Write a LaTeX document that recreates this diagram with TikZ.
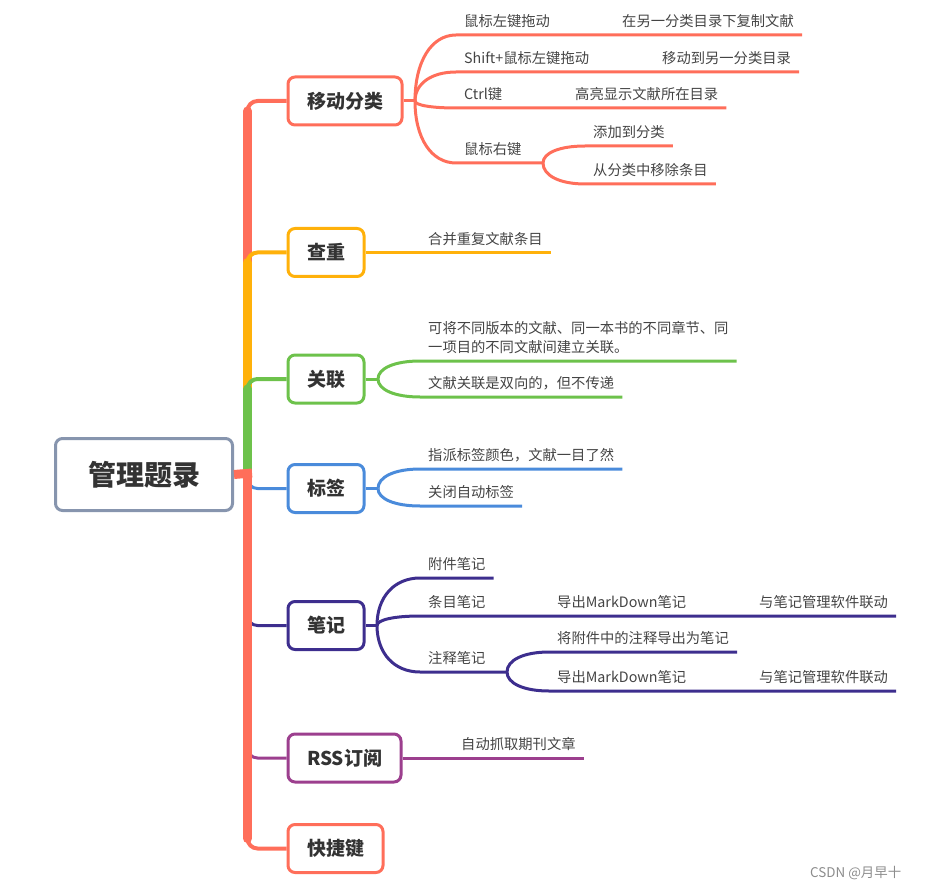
\documentclass[tikz,border=0pt]{standalone}
\usepackage{fontspec}
\setmainfont{Noto Sans CJK SC}
\usetikzlibrary{calc}
\definecolor{brRed}{HTML}{FF6E5A}
\definecolor{brOrange}{HTML}{FFB10A}
\definecolor{brGreen}{HTML}{6DC24B}
\definecolor{brBlue}{HTML}{4A8BDB}
\definecolor{brNavy}{HTML}{3D2E8E}
\definecolor{brPlum}{HTML}{9C3F8E}
\definecolor{rootEdge}{HTML}{8795AE}
\definecolor{txtDark}{HTML}{333333}
\definecolor{txtLeaf}{HTML}{444444}

\begin{document}
\begin{tikzpicture}[
  x=1pt, y=-1pt,
  root/.style={draw=rootEdge,line width=3pt,rounded corners=7pt,fill=white,minimum width=177pt,minimum height=72pt,font=\fontsize{28}{30}\selectfont\bfseries,text=txtDark},
  topic/.style={draw=#1,line width=3pt,rounded corners=7pt,fill=white,anchor=west,minimum height=48pt,inner xsep=19pt,font=\fontsize{19}{21}\selectfont\bfseries,text=txtDark},
  leaf/.style={anchor=south west,inner xsep=8pt,inner ysep=6pt,text depth=2pt,align=left,font=\fontsize{14.3}{19}\selectfont,text=txtLeaf},
  trunk/.style={line width=9pt,line cap=round},
  limb/.style={line width=4pt,rounded corners=10pt},
  twig/.style={line width=3pt},
  forkto/.style={to path={.. controls ($(\tikztostart)!0.6!(\tikztostart|-\tikztotarget)$) and ($(\tikztotarget)!0.6!(\tikztostart|-\tikztotarget)$) .. (\tikztotarget)}},
]
  \useasboundingbox (0,0) rectangle (925,890);

  \node[root] (root) at (144,474.5) {管理题录};
  \coordinate (j) at (247.5,473);

  \node[topic=brRed] (move) at (286.5,101) {移动分类};
  \node[topic=brOrange] (dup) at (286.5,252.5) {查重};
  \node[topic=brGreen] (rel) at (286.5,379) {关联};
  \node[topic=brBlue] (tag) at (286.5,488.5) {标签};
  \node[topic=brNavy] (note) at (286.5,625.5) {笔记};
  \node[topic=brPlum] (rss) at (286.5,758) {RSS订阅};
  \node[topic=brRed] (key) at (286.5,848.5) {快捷键};

  \draw[limb,brBlue,line width=3pt] (j) |- (tag.west);
  \draw[limb,brNavy,line width=3pt] (j) |- (note.west);
  \draw[limb,brPlum,line width=3pt] (j) |- (rss.west);
  \draw[limb,brRed] (j) |- (move.west);
  \draw[trunk,brRed] (j) -- ($(j|-move.west)+(0,10)$);
  \draw[limb,brRed] (j) |- (key.west);
  \draw[trunk,brRed] (j) -- ($(j|-key.west)+(0,-10)$);
  \draw[limb,brOrange] (j) |- (dup.west);
  \draw[trunk,brOrange] (j) -- ($(j|-dup.west)+(0,10)$);
  \draw[limb,brGreen] (j) |- (rel.west);
  \draw[trunk,brGreen] (j) -- ($(j|-rel.west)+(0,10)$);
  \draw[brRed,line width=9pt] (root.east) -- ($(j)+(4.5,0)$);

  \coordinate (mf) at (415,101);
  \coordinate (m4f) at (543,163);
  \node[leaf] (m1) at (456,35) {鼠标左键拖动};
  \node[leaf] (m1a) at (614,35) {在另一分类目录下复制文献};
  \node[leaf] (m2) at (456,72) {Shift+鼠标左键拖动};
  \node[leaf] (m2a) at (654,72) {移动到另一分类目录};
  \node[leaf] (m3) at (456,108) {Ctrl键};
  \node[leaf] (m3a) at (567,108) {高亮显示文献所在目录};
  \node[leaf] (m4) at (456,163) {鼠标右键};
  \node[leaf] (m4a) at (585,146) {添加到分类};
  \node[leaf] (m4b) at (585,184) {从分类中移除条目};
  \draw[twig,brRed] (move.east) -- (mf);
  \draw[twig,brRed] (mf) to[forkto] (m1.south west) -- (m1a.south east);
  \draw[twig,brRed] (mf) to[forkto] (m2.south west) -- (m2a.south east);
  \draw[twig,brRed] (mf) to[forkto] (m3.south west) -- (m3a.south east);
  \draw[twig,brRed] (mf) to[forkto] (m4.south west) -- (m4f);
  \draw[twig,brRed] (m4f) to[forkto] (m4a.south west) -- (m4a.south east);
  \draw[twig,brRed] (m4f) to[forkto] (m4b.south west) -- (m4b.south east);

  \node[leaf] (d1) at (420,252.5) {合并重复文献条目};
  \draw[twig,brOrange] (dup.east) -- (d1.south west) -- (d1.south east);

  \coordinate (rf) at (378,379);
  \node[leaf] (r1) at (420,361) {可将不同版本的文献、同一本书的不同章节、同\\一项目的不同文献间建立关联。};
  \node[leaf] (r2) at (420,397) {文献关联是双向的，但不传递};
  \draw[twig,brGreen] (rel.east) -- (rf);
  \draw[twig,brGreen] (rf) to[forkto] (r1.south west) -- (r1.south east);
  \draw[twig,brGreen] (rf) to[forkto] (r2.south west) -- (r2.south east);

  \coordinate (tf) at (378,488.5);
  \node[leaf] (t1) at (420,469) {指派标签颜色，文献一目了然};
  \node[leaf] (t2) at (420,506) {关闭自动标签};
  \draw[twig,brBlue] (tag.east) -- (tf);
  \draw[twig,brBlue] (tf) to[forkto] (t1.south west) -- (t1.south east);
  \draw[twig,brBlue] (tf) to[forkto] (t2.south west) -- (t2.south east);

  \coordinate (nf) at (377,625.5);
  \coordinate (n3f) at (507,672);
  \node[leaf] (n1) at (420,578) {附件笔记};
  \node[leaf] (n2) at (420,616) {条目笔记};
  \node[leaf] (n2a) at (549,616) {导出MarkDown笔记};
  \node[leaf] (n2b) at (751,616) {与笔记管理软件联动};
  \node[leaf] (n3) at (420,672) {注释笔记};
  \node[leaf] (n3a) at (549,652) {将附件中的注释导出为笔记};
  \node[leaf] (n3b) at (549,691) {导出MarkDown笔记};
  \node[leaf] (n3c) at (751,691) {与笔记管理软件联动};
  \draw[twig,brNavy] (note.east) -- (nf);
  \draw[twig,brNavy] (nf) to[forkto] (n1.south west) -- (n1.south east);
  \draw[twig,brNavy] (nf) to[forkto] (n2.south west) -- (n2b.south east);
  \draw[twig,brNavy] (nf) to[forkto] (n3.south west) -- (n3f);
  \draw[twig,brNavy] (n3f) to[forkto] (n3a.south west) -- (n3a.south east);
  \draw[twig,brNavy] (n3f) to[forkto] (n3b.south west) -- (n3c.south east);

  \node[leaf] (s1) at (453,758) {自动抓取期刊文章};
  \draw[twig,brPlum] (rss.east) -- (s1.south west) -- (s1.south east);

  \node[anchor=west,inner sep=0pt,font=\fontsize{13.4}{15}\selectfont,text=black!45] (mark) at (810,873) {CSDN @月早十};
\end{tikzpicture}
\end{document}
